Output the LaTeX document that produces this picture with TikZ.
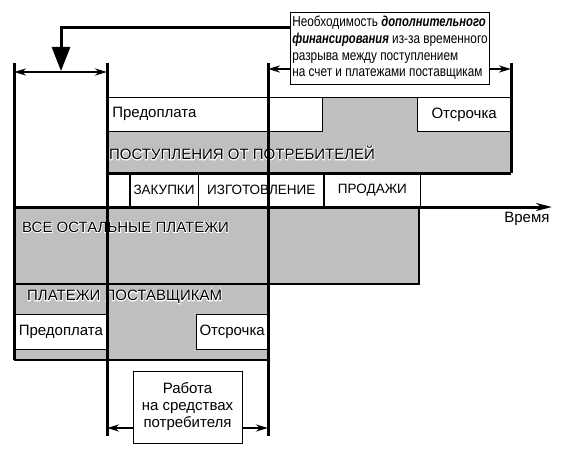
\documentclass[tikz,border=0pt]{standalone}
\usepackage{fontspec}
\setmainfont{Liberation Sans}
\newfontfamily\narrowfont[FakeStretch=0.82, BoldItalicFeatures={FakeStretch=0.78}]{Liberation Sans}
\newfontfamily\halofont[FakeBold=10]{Liberation Sans}
\usetikzlibrary{arrows.meta,positioning}
\definecolor{shade}{RGB}{191,191,191}

% white outline under the band titles
\newcommand\halo[1]{\leavevmode\rlap{\halofont\color{white}#1}#1}

\tikzset{
  bar/.style={line width=3pt},
  rim/.style={line width=2.4pt},
  band/.style={fill=shade, draw=black, line width=2.4pt},
  cell/.style={draw, fill=white, line width=0.7pt, minimum height=34pt, inner sep=0pt},
  stage/.style={cell, font=\fontsize{13.5}{15}\selectfont},
  caps/.style={inner sep=0pt, font=\fontsize{15}{17}\selectfont},
  note/.style={draw, fill=white, line width=0.9pt},
  half/.style={line width=2.4pt, -{Stealth[length=12pt, width=7pt]}},
  span/.style={line width=2.4pt, {Stealth[length=12pt, width=7pt]}-{Stealth[length=12pt, width=7pt]}},
  feed/.style={line width=3pt, -{Triangle[length=24pt, width=18pt]}}
}

\begin{document}
\begin{tikzpicture}[x=1pt, y=-1pt, font=\fontsize{15}{17}\selectfont]
  \useasboundingbox (0,0) rectangle (570,452);

  % receipts from customers
  \node[fill=shade, anchor=north west, minimum width=404pt, minimum height=76pt, inner sep=0pt] (inband) at (107,97) {};
  \node[cell, anchor=north west, text width=205pt, inner xsep=5pt, align=left] (preC) at (107,97) {Предоплата};
  \node[cell, anchor=north east, minimum width=93pt] (postC) at (511,97) {Отсрочка};
  \draw[line width=0.7pt] (inband.north west) -- (inband.north east);
  \node[caps, anchor=west] (inflow) at (109,153) {\halo{ПОСТУПЛЕНИЯ ОТ ПОТРЕБИТЕЛЕЙ}};

  % stages
  \node[stage, anchor=north west, minimum width=22pt] (s0) at (107,173) {};
  \node[stage, right=0pt of s0, minimum width=68pt] (buy) {ЗАКУПКИ};
  \node[stage, right=0pt of buy, minimum width=125pt] (make) {ИЗГОТОВЛЕНИЕ};
  \node[stage, right=0pt of make, minimum width=96pt] (sell) {ПРОДАЖИ};
  \draw[rim] (inband.south west) -- (inband.south east);

  % payments
  \node[band, anchor=north west, minimum width=404pt, minimum height=76pt, inner sep=0pt] (rest) at (14,207) {};
  \node[band, anchor=north west, minimum width=254pt, minimum height=76pt, inner sep=0pt] (supp) at (14,283) {};
  \node[cell, anchor=north west, minimum width=93pt, minimum height=35pt] (preS) at (14,314) {Предоплата};
  \node[cell, anchor=north east, minimum width=71pt, minimum height=35pt] (postS) at (268,314) {Отсрочка};
  \node[caps, anchor=west] (restlbl) at (22,227) {\halo{ВСЕ ОСТАЛЬНЫЕ ПЛАТЕЖИ}};
  \node[caps, anchor=west] (supplbl) at (27,297) {\halo{ПЛАТЕЖИ ПОСТАВЩИКАМ}};

  % time lines
  \foreach \x/\yb [count=\i] in {14/360, 107/436, 268/436, 511/173} {
    \coordinate (top\i) at (\x,63);
    \coordinate (bot\i) at (\x,\yb);
    \draw[bar] (top\i) -- (bot\i);
  }

  % time axis
  \coordinate (origin) at (13,207);
  \coordinate (tend) at (552,207);
  \draw[bar, -{Stealth[length=16pt, width=8pt]}] (origin) -- (tend);
  \node[anchor=east] (time) at (553,219) {Время};

  % notes
  \node[note, minimum width=198pt, minimum height=72pt, inner sep=2pt, align=left,
        font=\narrowfont\fontsize{14.4}{16.7}\selectfont] (need) at (390,48)
    {Необходимость \textbf{\textit{дополнительного}}\\
     \textbf{\textit{финансирования}} из-за временного\\
     разрыва между поступлением\\
     на счет и платежами поставщикам};
  \node[note, minimum width=109pt, minimum height=72pt, align=center,
        font=\fontsize{15}{17}\selectfont] (work) at (187.5,407)
    {Работа\\на средствах\\потребителя};

  \coordinate (lvlA) at (0,72);
  \coordinate (lvlB) at (0,69);
  \coordinate (lvlC) at (0,428);
  \coordinate (gap) at (61,71);

  \draw[feed] (need.west |- 0,28) -| (gap);
  \draw[span] (top1 |- lvlA) -- (top2 |- lvlA);
  \draw[half] (need.west |- lvlB) -- (top3 |- lvlB);
  \draw[half] (need.east |- lvlB) -- (top4 |- lvlB);
  \draw[half] (work.west |- lvlC) -- (top2 |- lvlC);
  \draw[half] (work.east |- lvlC) -- (top3 |- lvlC);
\end{tikzpicture}
\end{document}
